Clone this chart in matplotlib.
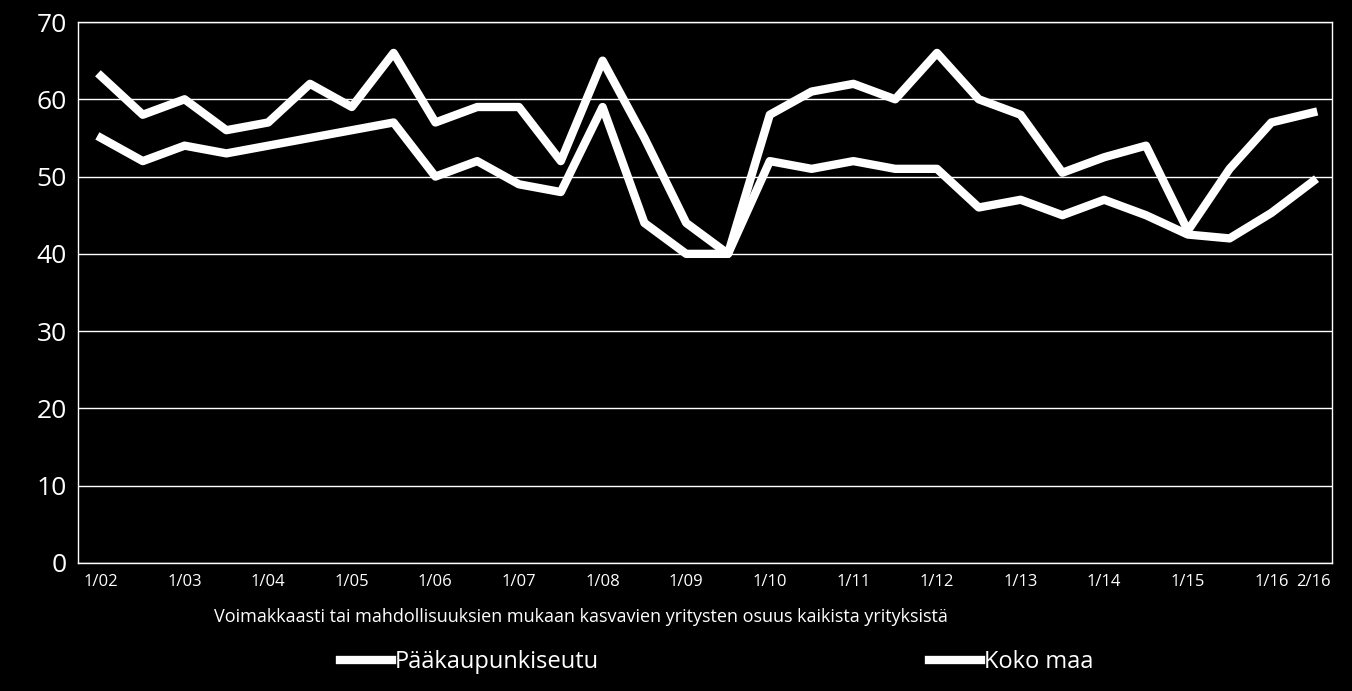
import matplotlib
matplotlib.use("Agg")
import matplotlib.pyplot as plt

labels = ["1/02","","1/03","","1/04","","1/05","","1/06","","1/07","","1/08","","1/09","",
          "1/10","","1/11","","1/12","","1/13","","1/14","","1/15","","1/16","2/16"]
paakaupunkiseutu = [63,58,60,56,57,62,59,66,57,59,59,52,65,55,44,40,58,61,62,60,66,60,58,50.5,52.5,54,43,51,57,58.3]
koko_maa = [55,52,54,53,54,55,56,57,50,52,49,48,59,44,40,40,52,51,52,51,51,46,47,45,47,45,42.5,42,45.3,49.4]

plt.rcParams['font.family'] = ['Open Sans', 'DejaVu Sans']
fig = plt.figure(figsize=(13.52, 6.91), dpi=100, facecolor='black')
ax = fig.add_axes([78/1352, 1-563/691, (1332-78)/1352, (563-22)/691], facecolor='black')
x = list(range(len(labels)))
ax.plot(x, paakaupunkiseutu, color='white', lw=6, label='Pääkaupunkiseutu')
ax.plot(x, koko_maa, color='white', lw=6, label='Koko maa')
ax.set_xlim(-0.55, len(labels)-0.55)
ax.set_ylim(0, 70)
ax.set_yticks(range(0, 71, 10))
ax.tick_params(axis='y', colors='white', labelsize=19, length=0, pad=8)
ax.set_xticks(x)
ax.set_xticklabels(labels)
ax.tick_params(axis='x', colors='white', labelsize=12, length=0, pad=8)
ax.grid(axis='y', color='white', lw=1)
for s in ax.spines.values():
    s.set_color('white'); s.set_linewidth(1)
ax.set_axisbelow(True)
fig.text(0.43, 1-617/691, "Voimakkaasti tai mahdollisuuksien mukaan kasvavien yritysten osuus kaikista yrityksistä",
         color='white', fontsize=13, ha='center', va='center')
leg = fig.legend(loc='center', bbox_to_anchor=(0.53, 1-662/691), ncol=2, frameon=False,
                 fontsize=17, labelcolor='white', handlelength=2.2, handletextpad=0.1,
                 columnspacing=14)
fig.savefig('out.png', facecolor='black')
